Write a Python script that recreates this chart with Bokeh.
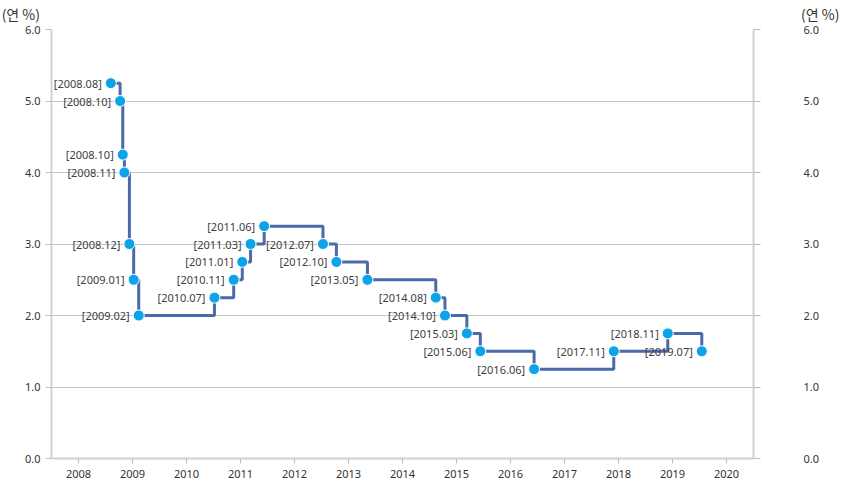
import datetime
from bokeh.plotting import figure
from bokeh.layouts import column
from bokeh.models import LinearAxis, FixedTicker, Div, ColumnDataSource, Range1d, NumeralTickFormatter
from bokeh.core.properties import value
from bokeh.embed import file_html
from bokeh.resources import INLINE

# ---- data ----
change_dates = ["2008-08-07", "2008-10-09", "2008-10-27", "2008-11-07", "2008-12-11",
                "2009-01-09", "2009-02-12", "2010-07-09", "2010-11-16", "2011-01-13",
                "2011-03-10", "2011-06-10", "2012-07-12", "2012-10-11", "2013-05-09",
                "2014-08-14", "2014-10-15", "2015-03-12", "2015-06-11", "2016-06-09",
                "2017-11-30", "2018-11-30", "2019-07-18"]
point_labels = ["2008.08", "2008.10", "2008.10", "2008.11", "2008.12",
                "2009.01", "2009.02", "2010.07", "2010.11", "2011.01",
                "2011.03", "2011.06", "2012.07", "2012.10", "2013.05",
                "2014.08", "2014.10", "2015.03", "2015.06", "2016.06",
                "2017.11", "2018.11", "2019.07"]
rates = [5.25, 5.00, 4.25, 4.00, 3.00,
         2.50, 2.00, 2.25, 2.50, 2.75,
         3.00, 3.25, 3.00, 2.75, 2.50,
         2.25, 2.00, 1.75, 1.50, 1.25,
         1.50, 1.75, 1.50]
year_ticks = list(range(2008, 2021))
rate_ticks = [0, 1, 2, 3, 4, 5, 6]
unit_text = "(연 %)"


def frac_year(s):
    d = datetime.date.fromisoformat(s)
    start = datetime.date(d.year, 1, 1)
    end = datetime.date(d.year + 1, 1, 1)
    return d.year + (d - start).days / (end - start).days


xs = [frac_year(s) for s in change_dates]
src = ColumnDataSource(dict(x=xs, y=rates, lab=["[" + s + "]" for s in point_labels]))

FONT = "Noto Sans"
TICK_COLOR = "#333333"

p = figure(frame_width=702, frame_height=429,
           x_range=Range1d(2007.5, 2020.5), y_range=Range1d(0, 6),
           output_backend="svg", toolbar_location=None,
           min_border_left=51, min_border_right=89, min_border_top=7, min_border_bottom=30,
           background_fill_color="white", border_fill_color="white")
p.outline_line_color = None

# gridlines
p.xgrid.visible = False
p.ygrid.ticker = FixedTicker(ticks=rate_ticks)
p.ygrid.grid_line_color = "#c4c4c4"
p.ygrid.grid_line_width = 1


def style_axis(ax, tick_out, standoff):
    ax.minor_tick_line_color = None
    ax.major_tick_in = 0
    ax.major_tick_out = tick_out
    ax.major_tick_line_color = "#bdbdbd"
    ax.axis_line_color = "#d2d2d2"
    ax.axis_line_width = 2
    ax.major_label_standoff = standoff
    ax.major_label_text_font = FONT
    ax.major_label_text_font_size = "11px"
    ax.major_label_text_color = TICK_COLOR


# x axis
xa = p.xaxis[0]
xa.ticker = FixedTicker(ticks=year_ticks)
style_axis(xa, 5, 6)

# left y axis
ya = p.yaxis[0]
ya.ticker = FixedTicker(ticks=rate_ticks)
ya.formatter = NumeralTickFormatter(format="0.0")
style_axis(ya, 6, 5)

# right y axis
ra = LinearAxis(ticker=FixedTicker(ticks=rate_ticks), formatter=NumeralTickFormatter(format="0.0"))
style_axis(ra, 7, 43)
p.add_layout(ra, "right")

# step line and points
p.step("x", "y", source=src, mode="after", line_color="#4a6aa8", line_width=3)
p.scatter("x", "y", source=src, size=11, fill_color="#0ca4e8", line_color="white", line_width=1)
p.text("x", "y", text="lab", source=src, x_offset=-9, text_align="right", text_baseline="middle",
       text_font=value(FONT), text_font_size="11px", text_color="#404040")

# unit labels (above the plot, left and right)
span_style = ("position:absolute;top:5px;font-family:'Noto Sans CJK KR';font-size:14px;"
              "line-height:18px;color:#333333;white-space:nowrap;")
header = Div(
    text=(f'<div style="position:relative;width:842px;height:22px;">'
          f'<span style="{span_style}right:802px;">{unit_text}</span>'
          f'<span style="{span_style}left:801px;">{unit_text}</span></div>'),
    width=842, height=22, margin=0)

layout = column(header, p, spacing=0, margin=0)
open("out.html", "w").write(file_html(layout, INLINE))
